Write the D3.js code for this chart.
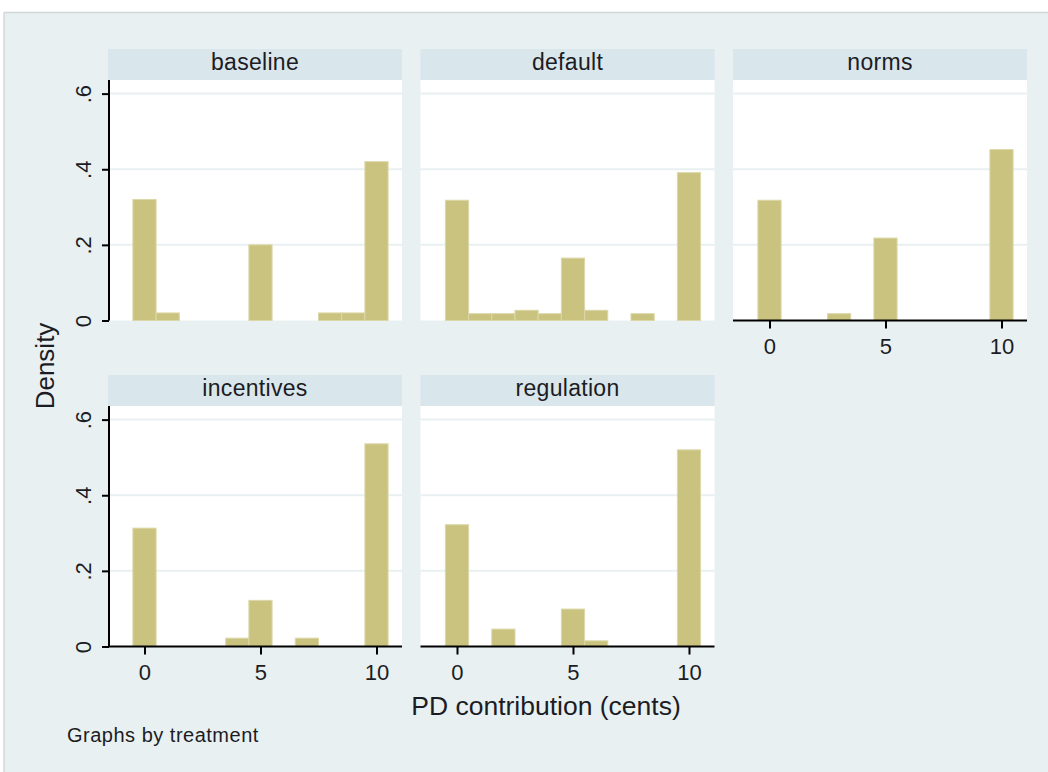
<!DOCTYPE html>
<html>
<head>
<meta charset="utf-8">
<script src="https://cdn.jsdelivr.net/npm/d3@7"></script>
<style>
  html, body { margin: 0; padding: 0; background: #ffffff; }
  svg { display: block; }
  text { font-family: "Liberation Sans", Arial, sans-serif; fill: #1c1c24; }
</style>
</head>
<body>
<svg id="chart" width="1048" height="772"></svg>
<script>
// ---- data ----
const treatments = ["baseline", "default", "norms", "incentives", "regulation"];
const baselineBins = [0, 1, 5, 8, 9, 10];
const baselineDensity = [0.32, 0.02, 0.20, 0.02, 0.02, 0.42];
const defaultBins = [0, 1, 2, 3, 4, 5, 6, 8, 10];
const defaultDensity = [0.318, 0.018, 0.018, 0.027, 0.018, 0.165, 0.027, 0.018, 0.391];
const normsBins = [0, 3, 5, 10];
const normsDensity = [0.318, 0.018, 0.218, 0.452];
const incentivesBins = [0, 4, 5, 7, 10];
const incentivesDensity = [0.313, 0.022, 0.122, 0.022, 0.536];
const regulationBins = [0, 2, 5, 6, 10];
const regulationDensity = [0.322, 0.046, 0.099, 0.015, 0.52];
const xTicks = [0, 5, 10];
const yTicks = [0, 0.2, 0.4, 0.6];
const yTickLabels = ["0", ".2", ".4", ".6"];
const xTitle = "PD contribution (cents)";
const yTitle = "Density";
const note = "Graphs by treatment";

const series = [
  { name: treatments[0], bins: baselineBins, dens: baselineDensity },
  { name: treatments[1], bins: defaultBins, dens: defaultDensity },
  { name: treatments[2], bins: normsBins, dens: normsDensity },
  { name: treatments[3], bins: incentivesBins, dens: incentivesDensity },
  { name: treatments[4], bins: regulationBins, dens: regulationDensity }
];

// ---- layout ----
const svg = d3.select("#chart");
const bg = "#e8f0f2";
svg.append("rect").attr("x", 4).attr("y", 13).attr("width", 1044).attr("height", 759)
  .attr("fill", bg);
svg.append("line").attr("x1", 4).attr("x2", 1048).attr("y1", 12.5).attr("y2", 12.5)
  .attr("stroke", "#d3d7d8").attr("stroke-width", 1.5);
svg.append("line").attr("x1", 4).attr("x2", 4).attr("y1", 12.5).attr("y2", 772)
  .attr("stroke", "#d3d7d8").attr("stroke-width", 1.5);

const colLeft = [108, 420.5, 733];
const rowTop = [49, 375];
const panelW = 294;
const headerH = 31;
const plotH = 240.5;
const ncols = 3;

const x = d3.scaleLinear().domain([-1.573, 11.1]).range([0, panelW]);
const y = d3.scaleLinear().domain([0, 0.636]).range([plotH, 0]);

series.forEach((s, i) => {
  const col = i % ncols, row = Math.floor(i / ncols);
  const g = svg.append("g").attr("transform", `translate(${colLeft[col]},${rowTop[row]})`);
  // header
  g.append("rect").attr("x", 0).attr("y", 0).attr("width", panelW).attr("height", headerH)
    .attr("fill", "#d9e6eb");
  g.append("text").attr("x", panelW / 2).attr("y", 21)
    .attr("text-anchor", "middle").attr("font-size", 23).attr("letter-spacing", 0.3).text(s.name);
  const p = g.append("g").attr("transform", `translate(0,${headerH})`);
  p.append("rect").attr("x", 0).attr("y", 0).attr("width", panelW).attr("height", plotH)
    .attr("fill", "#ffffff");
  // gridlines
  p.selectAll("line.grid").data(yTicks.filter(d => d > 0)).join("line")
    .attr("class", "grid")
    .attr("x1", 0).attr("x2", panelW)
    .attr("y1", d => y(d)).attr("y2", d => y(d))
    .attr("stroke", "#e8f0f2").attr("stroke-width", 2);
  // bars
  const data = s.bins.map((b, k) => ({ b, d: s.dens[k] }));
  p.selectAll("rect.bar").data(data).join("rect")
    .attr("class", "bar")
    .attr("x", d => x(d.b - 0.5))
    .attr("width", d => x(d.b + 0.5) - x(d.b - 0.5))
    .attr("y", d => y(d.d))
    .attr("height", d => y(0) - y(d.d))
    .attr("fill", "#cac37f")
    .attr("stroke", "#dcd7a8").attr("stroke-width", 1);
  // y axis on first column
  if (col === 0) {
    const ya = p.append("g").attr("transform", "translate(1,0)")
      .call(d3.axisLeft(y).tickValues(yTicks).tickSize(7).tickFormat((d, k) => yTickLabels[k]));
    ya.select(".domain").attr("stroke", "#000").attr("stroke-width", 2)
      .attr("d", `M0,${y(0)}V0`);
    ya.selectAll(".tick line").attr("stroke", "#000").attr("stroke-width", 2);
    ya.selectAll(".tick text")
      .attr("font-size", 22).attr("font-family", "Liberation Sans, Arial, sans-serif")
      .attr("fill", "#1c1c24")
      .attr("x", null).attr("dy", null)
      .attr("text-anchor", "middle")
      .attr("transform", "translate(-18,0) rotate(-90)");
  }
  // x axis on the bottom panel of each column
  const hasXAxis = (row === 1) || (row === 0 && col === 2);
  if (hasXAxis) {
    const xa = p.append("g").attr("transform", `translate(0,${y(0)})`)
      .call(d3.axisBottom(x).tickValues(xTicks).tickSize(8).tickFormat(d3.format("d")));
    xa.select(".domain").attr("stroke", "#000").attr("stroke-width", 2)
      .attr("d", `M0,0H${panelW}`);
    xa.selectAll(".tick line").attr("stroke", "#000").attr("stroke-width", 2);
    xa.selectAll(".tick text")
      .attr("font-size", 22).attr("font-family", "Liberation Sans, Arial, sans-serif")
      .attr("fill", "#1c1c24").attr("dy", null).attr("y", 33);
  }
});

// titles
svg.append("text").attr("x", 546).attr("y", 715).attr("text-anchor", "middle")
  .attr("font-size", 26.5).text(xTitle);
svg.append("text").attr("transform", "translate(54,366) rotate(-90)")
  .attr("text-anchor", "middle").attr("font-size", 26).text(yTitle);
svg.append("text").attr("x", 67).attr("y", 742).attr("font-size", 20).attr("letter-spacing", 0.5).text(note);
</script>
</body>
</html>
